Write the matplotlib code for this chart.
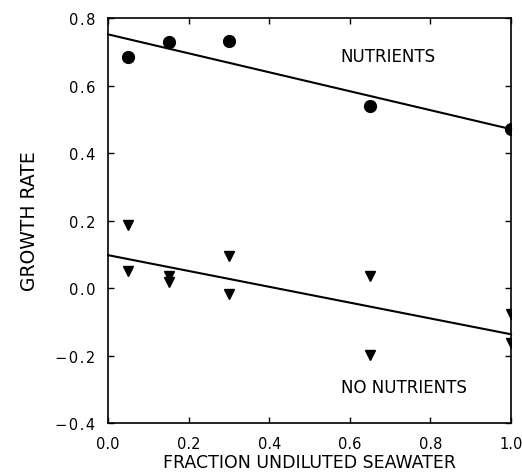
import matplotlib

matplotlib.use("Agg")
import matplotlib.pyplot as plt
import numpy as np

# Growth rate vs fraction of undiluted seawater
nut_x = [0.05, 0.15, 0.30, 0.65, 1.00]
nut_y = [0.684, 0.729, 0.732, 0.539, 0.471]

nonut_x = [0.05, 0.05, 0.15, 0.15, 0.30, 0.30, 0.65, 0.65, 1.00, 1.00]
nonut_y = [0.187, 0.051, 0.035, 0.018, 0.095, -0.017, 0.036, -0.199, -0.076, -0.163]

xticks = [0.0, 0.2, 0.4, 0.6, 0.8, 1.0]
yticks = [-0.4, -0.2, 0.0, 0.2, 0.4, 0.6, 0.8]

plt.rcParams["font.family"] = ["DejaVu Sans"]


def spaced(t):
    # the original labels are set with loose letter spacing
    s = f"{t:.1f}".replace("-", "\u2212")
    return "\u200a".join(s)


fig = plt.figure(figsize=(5.22, 4.77), dpi=100)
ax = fig.add_axes([0.207, 0.111, 0.772, 0.849])

ax.plot(nut_x, nut_y, "o", color="black", ms=8.5)
ax.plot(nonut_x, nonut_y, "v", color="black", ms=7)

# Least-squares lines through each set
xs = np.array([0.0, 1.0])
for x, y in [(nut_x, nut_y), (nonut_x, nonut_y)]:
    k, b = np.polyfit(x, y, 1)
    ax.plot(xs, k * xs + b, color="black", lw=1.5, clip_on=False)

ax.text(0.695, 0.687, "NUTRIENTS", ha="center", va="center", fontsize=12)
ax.text(0.735, -0.293, "NO NUTRIENTS", ha="center", va="center", fontsize=12)

ax.set_xlim(0, 1)
ax.set_ylim(-0.4, 0.8)
ax.set_xticks(xticks)
ax.set_yticks(yticks)
ax.set_xticklabels([f"{t:.1f}" for t in xticks])
ax.set_yticklabels([spaced(t) for t in yticks])
ax.tick_params(direction="in", length=4, width=1, top=True, right=True,
               labelsize=10.5, pad=9)
for s in ax.spines.values():
    s.set_linewidth(1.2)

ax.set_xlabel("FRACTION UNDILUTED SEAWATER", fontsize=12.5, labelpad=2)
ax.set_ylabel("GROWTH RATE", fontsize=13.5, labelpad=12)

fig.savefig("out.png", dpi=100)
